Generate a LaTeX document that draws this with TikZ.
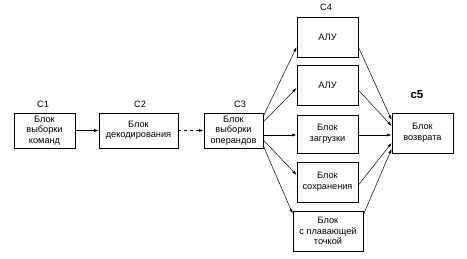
\documentclass[tikz,border=0pt]{standalone}
\usepackage{fontspec}
\setmainfont{Liberation Sans}
\usetikzlibrary{arrows.meta}
\begin{document}
\begin{tikzpicture}[x=1pt,y=-1pt,
  blk/.style={draw=black,line width=0.8pt,minimum width=61pt,minimum height=38pt,align=center,inner sep=1pt,font=\fontsize{9.2}{10.5}\selectfont},
  lbl/.style={font=\fontsize{9.2}{10.5}\selectfont},
  conn/.style={line width=0.5pt,-{Latex[length=4.5pt,width=3pt]}}]
\useasboundingbox (0,0) rectangle (467,258);
\node[blk,minimum width=61pt,minimum height=35pt] (b1) at (44.5,130.5) {Блок\\выборки\\команд};
\node[blk,minimum width=79pt,minimum height=35pt] (b2) at (138.5,130.5) {Блок\\декодирования};
\node[blk,minimum width=59pt,minimum height=35pt] (b3) at (233.5,130.5) {Блок\\выборки\\операндов};
\node[blk,minimum height=40pt] (alu1) at (327.5,37) {АЛУ};
\node[blk,minimum height=40pt] (alu2) at (327.5,85) {АЛУ};
\node[blk,minimum height=38pt] (zag) at (327.5,134) {Блок\\загрузки};
\node[blk,minimum height=40pt] (sokh) at (327.5,182) {Блок\\сохранения};
\node[blk,minimum width=70pt,minimum height=40pt] (fp) at (328,231) {Блок\\с плавающей\\точкой};
\node[blk,minimum height=40pt] (voz) at (422.5,133) {Блок\\возврата};
\node[lbl] (l1) at (43,104) {С1};
\node[lbl] (l2) at (140,104) {С2};
\node[lbl] (l3) at (240,104) {С3};
\node[lbl] (l4) at (326,7) {С4};
\node[font=\bfseries\fontsize{11.5}{12}\selectfont] (l5) at (417,95) {c5};
\draw[conn] (b1) -- (b2);
\draw[conn,dashed] (b2) -- (b3);
\draw[conn] ([yshift=14.5pt]b3.east) -- ([yshift=-10pt]alu1.west);
\draw[conn] ([yshift=8.5pt]b3.east) -- ([yshift=-3pt]alu2.west);
\draw[conn] ([yshift=-4.5pt]b3.east) -- ([yshift=-1pt]zag.west);
\draw[conn] ([yshift=-9.5pt]b3.east) -- ([yshift=7pt]sokh.west);
\draw[conn] ([yshift=-15.5pt]b3.east) -- ([yshift=-3pt]fp.north west);
\draw[conn] ([yshift=-10pt]alu1.east) -- ([yshift=13pt]voz.west);
\draw[conn] ([yshift=-5pt]alu2.east) -- ([yshift=7pt]voz.west);
\draw[conn] ([yshift=-1pt]zag.east) -- ([yshift=-2pt]voz.west);
\draw[conn] ([yshift=-3pt]sokh.east) -- ([yshift=-10pt]voz.west);
\draw[conn] ([yshift=-4pt]fp.north east) -- ([yshift=-16pt]voz.west);
\end{tikzpicture}
\end{document}
